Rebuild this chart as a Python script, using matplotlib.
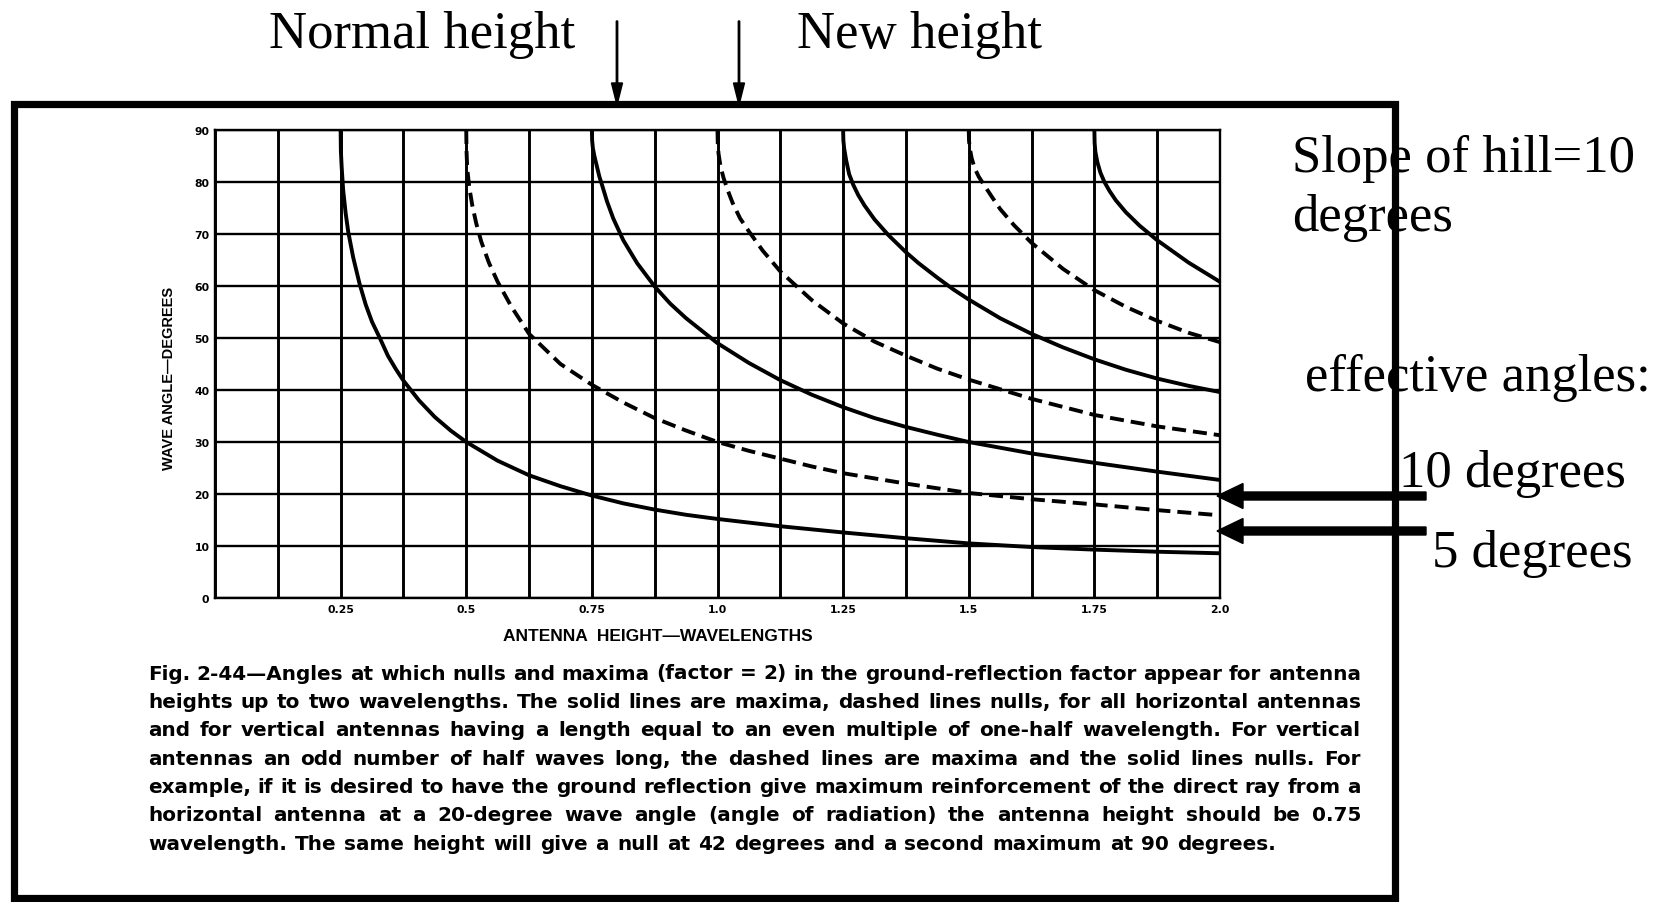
import matplotlib
matplotlib.use("Agg")
import matplotlib.pyplot as plt
from matplotlib import font_manager
from matplotlib.patches import Rectangle, FancyArrow
from matplotlib.transforms import IdentityTransform
from matplotlib.ticker import MultipleLocator

# curves: antenna height (wavelengths) vs wave angle (deg)
# solid = maxima, dashed = nulls
max1_h = [0.25, 0.2505, 0.252, 0.255, 0.26, 0.265, 0.275, 0.2875, 0.3, 0.3125, 0.328, 0.344,
          0.36, 0.375, 0.406, 0.4375, 0.469, 0.5, 0.5625, 0.625, 0.6875, 0.75, 0.8125, 0.875,
          0.9375, 1.0, 1.125, 1.25, 1.375, 1.5, 1.625, 1.75, 1.875, 2.0]
max1_deg = [90, 86, 83, 78.5, 74, 70.5, 65.5, 60.5, 56.4, 53.1, 50, 46.6,
            44, 41.8, 38, 34.8, 32.2, 30, 26.4, 23.6, 21.5, 19.7, 18.2, 17,
            16, 15.2, 13.8, 12.6, 11.5, 10.5, 9.8, 9.3, 8.9, 8.6]
max2_h = [0.75, 0.7505, 0.752, 0.755, 0.76, 0.765, 0.77, 0.78, 0.7925, 0.8125, 0.84, 0.875,
          0.906, 0.9375, 1.0, 1.0625, 1.125, 1.1875, 1.25, 1.3125, 1.375, 1.4375, 1.5, 1.625,
          1.75, 1.875, 2.0]
max2_deg = [90, 88, 86.5, 85, 83, 81, 79.5, 76.3, 73, 68.8, 64.4, 59.9,
            56.6, 53.8, 49, 45.2, 41.9, 39.1, 36.7, 34.6, 32.9, 31.4, 30, 27.8,
            26, 24.3, 22.7]
max3_h = [1.25, 1.2505, 1.252, 1.256, 1.262, 1.27, 1.28, 1.2925, 1.3125, 1.34, 1.375, 1.4,
          1.4375, 1.47, 1.5, 1.5625, 1.625, 1.6875, 1.75, 1.8125, 1.875, 1.9375, 2.0]
max3_deg = [90, 88, 86.5, 84.2, 81.5, 79.5, 77.5, 75.5, 72.8, 69.8, 66.5, 64.4,
            61.6, 59.3, 57.4, 53.8, 50.8, 48.2, 45.9, 43.9, 42.2, 40.8, 39.6]
max4_h = [1.75, 1.7505, 1.752, 1.756, 1.762, 1.77, 1.78, 1.7925, 1.8125, 1.84, 1.875, 1.9375, 2.0]
max4_deg = [90, 87.5, 85.8, 83.8, 81.8, 80, 78.3, 76.5, 74.2, 71.6, 68.8, 64.5, 60.8]

null1_h = [0.5, 0.5005, 0.502, 0.506, 0.512, 0.52, 0.53, 0.545, 0.5625, 0.59, 0.625, 0.6875,
           0.75, 0.8125, 0.875, 0.9375, 1.0, 1.0625, 1.125, 1.1875, 1.25, 1.375, 1.5, 1.625,
           1.75, 1.875, 2.0]
null1_deg = [90, 86, 82.5, 79, 75.5, 72, 68.5, 64.5, 60.8, 56, 50.8, 45,
             41, 37.6, 34.6, 32.2, 30, 28.3, 26.8, 25.3, 24, 22, 20.2, 19,
             18, 16.9, 15.9]
null2_h = [1.0, 1.0005, 1.002, 1.006, 1.012, 1.02, 1.03, 1.045, 1.0625, 1.09, 1.125, 1.1875,
           1.25, 1.3125, 1.375, 1.4375, 1.5, 1.625, 1.75, 1.875, 2.0]
null2_deg = [90, 87.5, 85.5, 83, 80.8, 78.5, 76, 73, 70.5, 66.8, 62.8, 57.3,
             52.8, 49.3, 46.6, 44.1, 42, 38.3, 35.2, 33, 31.3]
null3_h = [1.5, 1.5005, 1.502, 1.506, 1.512, 1.52, 1.53, 1.545, 1.5625, 1.59, 1.625, 1.6875,
           1.75, 1.8125, 1.875, 1.9375, 2.0]
null3_deg = [90, 88, 86.5, 84.5, 82.6, 81, 79.5, 77.3, 74.8, 71.7, 68.3, 63.3,
             59.2, 56, 53.3, 51, 49.2]

x_ticks = [0.25, 0.5, 0.75, 1.0, 1.25, 1.5, 1.75, 2.0]
x_ticklabels = ["0.25", "0.5", "0.75", "1.0", "1.25", "1.5", "1.75", "2.0"]
y_ticks = [0, 10, 20, 30, 40, 50, 60, 70, 80, 90]

caption = [
    "Fig. 2-44\u2014Angles at which nulls and maxima (factor = 2) in the ground-reflection factor appear for antenna",
    "heights up to two wavelengths. The solid lines are maxima, dashed lines nulls, for all horizontal antennas",
    "and for vertical antennas having a length equal to an even multiple of one-half wavelength. For vertical",
    "antennas an odd number of half waves long, the dashed lines are maxima and the solid lines nulls. For",
    "example, if it is desired to have the ground reflection give maximum reinforcement of the direct ray from a",
    "horizontal antenna at a 20-degree wave angle (angle of radiation) the antenna height should be 0.75",
    "wavelength. The same height will give a null at 42 degrees and a second maximum at 90 degrees.",
]


def pick_font(names):
    have = {f.name for f in font_manager.fontManager.ttflist}
    for n in names:
        if n in have:
            return n
    return "DejaVu Sans"


narrow = pick_font(["Liberation Sans Narrow", "DejaVu Sans Condensed", "Liberation Sans"])
sans = pick_font(["Liberation Sans", "DejaVu Sans"])
serif = pick_font(["Liberation Serif", "DejaVu Serif"])

W, H = 1667, 903
fig = plt.figure(figsize=(W / 100, H / 100), dpi=100)
fig.patch.set_facecolor("white")


def fx(x):
    return x / W


def fy(y):
    return 1 - y / H


# chart area
ax = fig.add_axes([fx(215), fy(599), fx(1220) - fx(215), fy(131) - fy(599)])
ax.set_xlim(0, 2.0)
ax.set_ylim(0, 90)
ax.set_xticks(x_ticks)
ax.set_xticklabels(x_ticklabels)
ax.xaxis.set_minor_locator(MultipleLocator(0.125))
ax.set_yticks(y_ticks)
ax.grid(True, which="both", axis="x", color="black", lw=2.1)
ax.grid(True, which="major", axis="y", color="black", lw=1.7)
ax.tick_params(which="both", length=0)
ax.tick_params(axis="x", pad=4)
ax.tick_params(axis="y", pad=4)
for lab in ax.get_xticklabels() + ax.get_yticklabels():
    lab.set_fontfamily("DejaVu Sans")
    lab.set_fontweight("bold")
    lab.set_fontsize(7.8)
for sp in ax.spines.values():
    sp.set_linewidth(1.7)

solid = [(max1_h, max1_deg), (max2_h, max2_deg), (max3_h, max3_deg), (max4_h, max4_deg)]
dashed = [(null1_h, null1_deg), (null2_h, null2_deg), (null3_h, null3_deg)]
for h, d in solid:
    ax.plot(h, d, color="black", lw=2.8, solid_capstyle="butt", solid_joinstyle="round")
for h, d in dashed:
    ax.plot(h, d, color="black", lw=2.8, dashes=(3.6, 1.8), dash_capstyle="butt")

ax.set_xlabel("ANTENNA  HEIGHT\u2014WAVELENGTHS", fontfamily=sans, fontweight="bold",
              fontsize=12.5)
ax.xaxis.set_label_coords(0.441, -0.064)
ax.set_ylabel("WAVE ANGLE\u2014DEGREES", fontfamily=narrow, fontweight="bold",
              fontsize=10.5)
ax.yaxis.set_label_coords(-0.0385, 0.472)

# outer frame
frame = Rectangle((fx(14), fy(899)), fx(1395) - fx(14), fy(105) - fy(899),
                  transform=fig.transFigure, fill=False, edgecolor="black", lw=5.2)
fig.add_artist(frame)

# annotations in serif
big = 38
fig.text(fx(269), fy(48), "Normal height", fontfamily=serif, fontsize=big, va="baseline")
fig.text(fx(797), fy(48), "New height", fontfamily=serif, fontsize=big, va="baseline")
fig.text(fx(1292), fy(172), "Slope of hill=10", fontfamily=serif, fontsize=big, va="baseline")
fig.text(fx(1292), fy(231), "degrees", fontfamily=serif, fontsize=big, va="baseline")
fig.text(fx(1305), fy(391), "effective angles:", fontfamily=serif, fontsize=big, va="baseline")
fig.text(fx(1399), fy(487), "10 degrees", fontfamily=serif, fontsize=big, va="baseline")
fig.text(fx(1432), fy(567), "5 degrees", fontfamily=serif, fontsize=big, va="baseline")

# thin arrows from top
for xa in (617, 739):
    fig.add_artist(FancyArrow(xa, H - 22, 0, -(106 - 22), width=1.4, head_width=11,
                              head_length=22, length_includes_head=True, color="black",
                              transform=IdentityTransform()))
# thick arrows to the right edge of the chart
for ya in (497, 532):
    fig.add_artist(FancyArrow(1426, H - ya, 1217 - 1426, 0, width=8, head_width=25,
                              head_length=26, length_includes_head=True, color="black",
                              transform=IdentityTransform()))

# justified caption, font size fitted so the longest line fills the width
renderer = fig.canvas.get_renderer()
left, right = 148, 1361
base = 13.0
rows = []
for i, line in enumerate(caption):
    yy = fy(674 + i * 28.4)
    objs = [fig.text(0, yy, w, fontfamily="DejaVu Sans", fontweight="bold", fontsize=base,
                     va="center") for w in line.split()]
    rows.append(objs)
probe_a = fig.text(0, 0, "a a", fontfamily="DejaVu Sans", fontweight="bold", fontsize=base)
probe_b = fig.text(0, 0, "aa", fontfamily="DejaVu Sans", fontweight="bold", fontsize=base)
space_w = probe_a.get_window_extent(renderer).width - probe_b.get_window_extent(renderer).width
probe_a.remove()
probe_b.remove()
natural = [sum(t.get_window_extent(renderer).width for t in objs) + space_w * (len(objs) - 1)
           for objs in rows[:-1]]
scale = min(1.12, (right - left) / max(natural))
size = base * scale
for i, objs in enumerate(rows):
    for t in objs:
        t.set_fontsize(size)
    widths = [t.get_window_extent(renderer).width for t in objs]
    if i == len(rows) - 1:
        gap = space_w * scale * 1.15
    else:
        gap = (right - left - sum(widths)) / (len(objs) - 1)
    xpos = left
    for t, wd in zip(objs, widths):
        t.set_x(fx(xpos))
        xpos += wd + gap

fig.savefig("out.png", dpi=100)
